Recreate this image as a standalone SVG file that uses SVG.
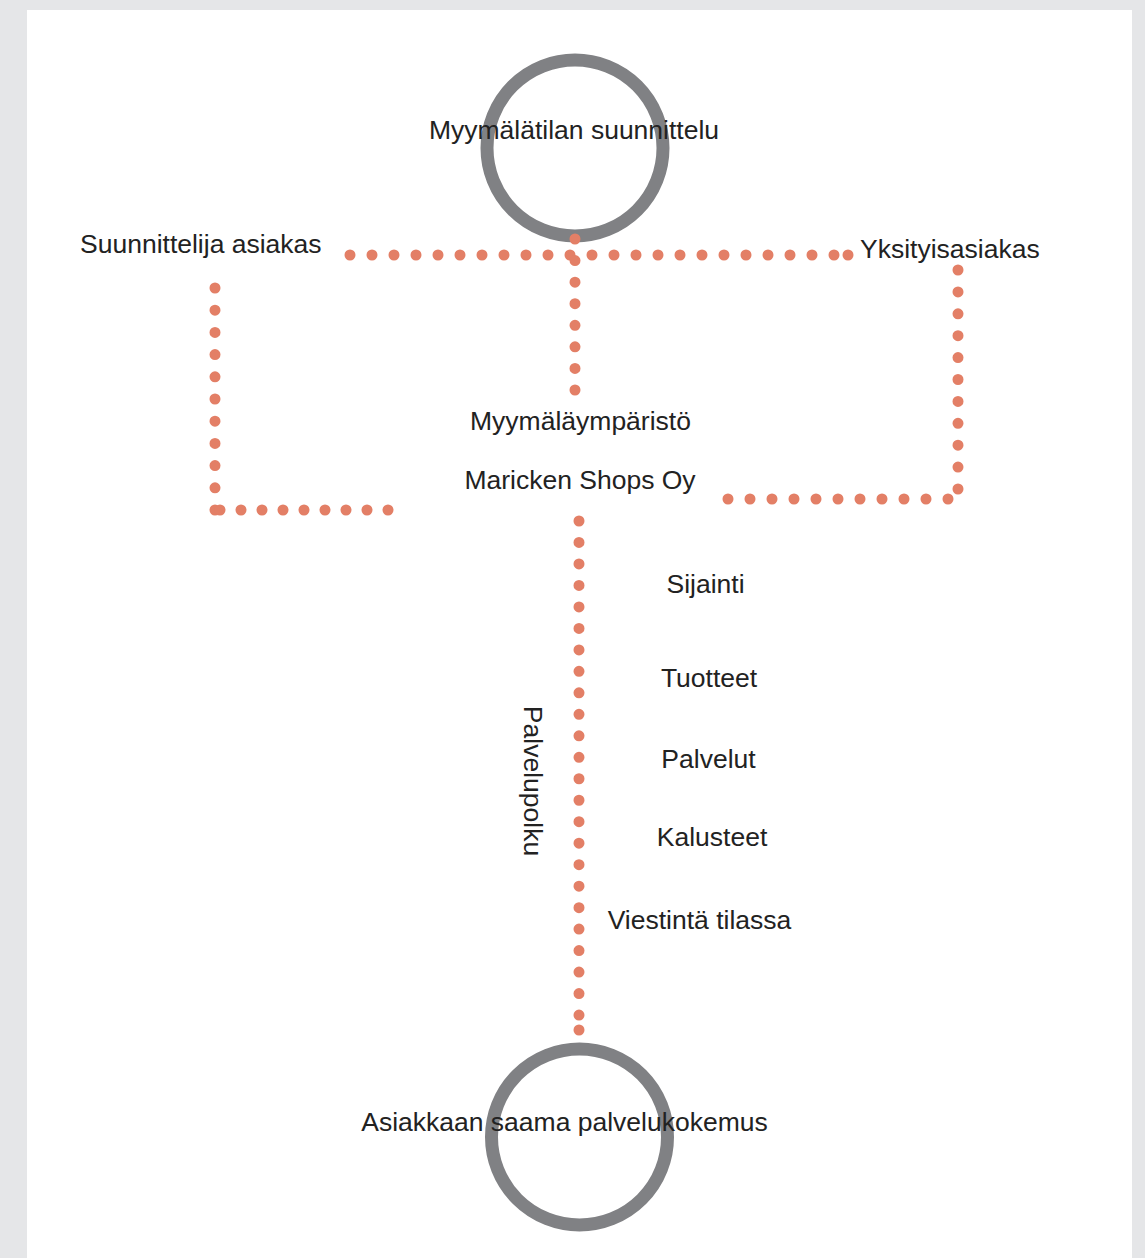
<svg xmlns="http://www.w3.org/2000/svg" width="1145" height="1258" viewBox="0 0 1145 1258">
  <style>
    .ring { fill: none; stroke: #808184; stroke-width: 13; }
    .dot { fill: none; stroke: #e37f66; stroke-width: 11; stroke-linecap: round; }
    .enddot { fill: #e37f66; }
    .lbl { font-family: "Liberation Sans", Arial, sans-serif; font-size: 26.5px; fill: #222222; }
    .mid { text-anchor: middle; }
  </style>
  <rect x="0" y="0" width="1145" height="1258" fill="#e5e6e8"/>
  <rect x="27" y="10" width="1105" height="1248" fill="#ffffff"/>

  <g id="node-myymalatilan">
    <circle class="ring" cx="575" cy="148" r="88"/>
    <text class="lbl mid" x="574" y="139">Myymälätilan suunnittelu</text>
  </g>
  <g id="node-asiakkaan">
    <circle class="ring" cx="579.5" cy="1137" r="88"/>
    <text class="lbl mid" x="564.5" y="1131">Asiakkaan saama palvelukokemus</text>
  </g>

  <g id="connectors">
    <line class="dot" x1="350" y1="255" x2="834.5" y2="255" stroke-dasharray="0 22"/>
    <circle class="enddot" cx="848" cy="255" r="5.5"/>
    <line class="dot" x1="575" y1="239" x2="575" y2="390.5" stroke-dasharray="0 21.57"/>
    <line class="dot" x1="215" y1="288" x2="215" y2="510.5" stroke-dasharray="0 22.2"/>
    <line class="dot" x1="220" y1="510" x2="388.5" y2="510" stroke-dasharray="0 21"/>
    <line class="dot" x1="958" y1="270" x2="958" y2="489.5" stroke-dasharray="0 21.9"/>
    <line class="dot" x1="728" y1="499" x2="948.5" y2="499" stroke-dasharray="0 22"/>
    <line class="dot" x1="579" y1="521" x2="579" y2="1015.5" stroke-dasharray="0 21.48"/>
    <circle class="enddot" cx="579" cy="1030" r="5.5"/>
  </g>

  <g id="node-suunnittelija">
    <text class="lbl" x="80" y="253">Suunnittelija asiakas</text>
  </g>
  <g id="node-yksityisasiakas">
    <text class="lbl" x="860" y="258">Yksityisasiakas</text>
  </g>
  <g id="node-myymalaymparisto">
    <text class="lbl mid" x="580.5" y="430">Myymäläympäristö</text>
  </g>
  <g id="node-maricken">
    <text class="lbl mid" x="580" y="489">Maricken Shops Oy</text>
  </g>
  <g id="node-sijainti">
    <text class="lbl mid" x="705.5" y="593">Sijainti</text>
  </g>
  <g id="node-tuotteet">
    <text class="lbl mid" x="709" y="687">Tuotteet</text>
  </g>
  <g id="node-palvelut">
    <text class="lbl mid" x="708.5" y="768">Palvelut</text>
  </g>
  <g id="node-kalusteet">
    <text class="lbl mid" x="712" y="846">Kalusteet</text>
  </g>
  <g id="node-viestinta">
    <text class="lbl mid" x="699.5" y="929">Viestintä tilassa</text>
  </g>
  <g id="node-palvelupolku">
    <text class="lbl mid" x="524" y="781" transform="rotate(90 524 781)">Palvelupolku</text>
  </g>
</svg>
